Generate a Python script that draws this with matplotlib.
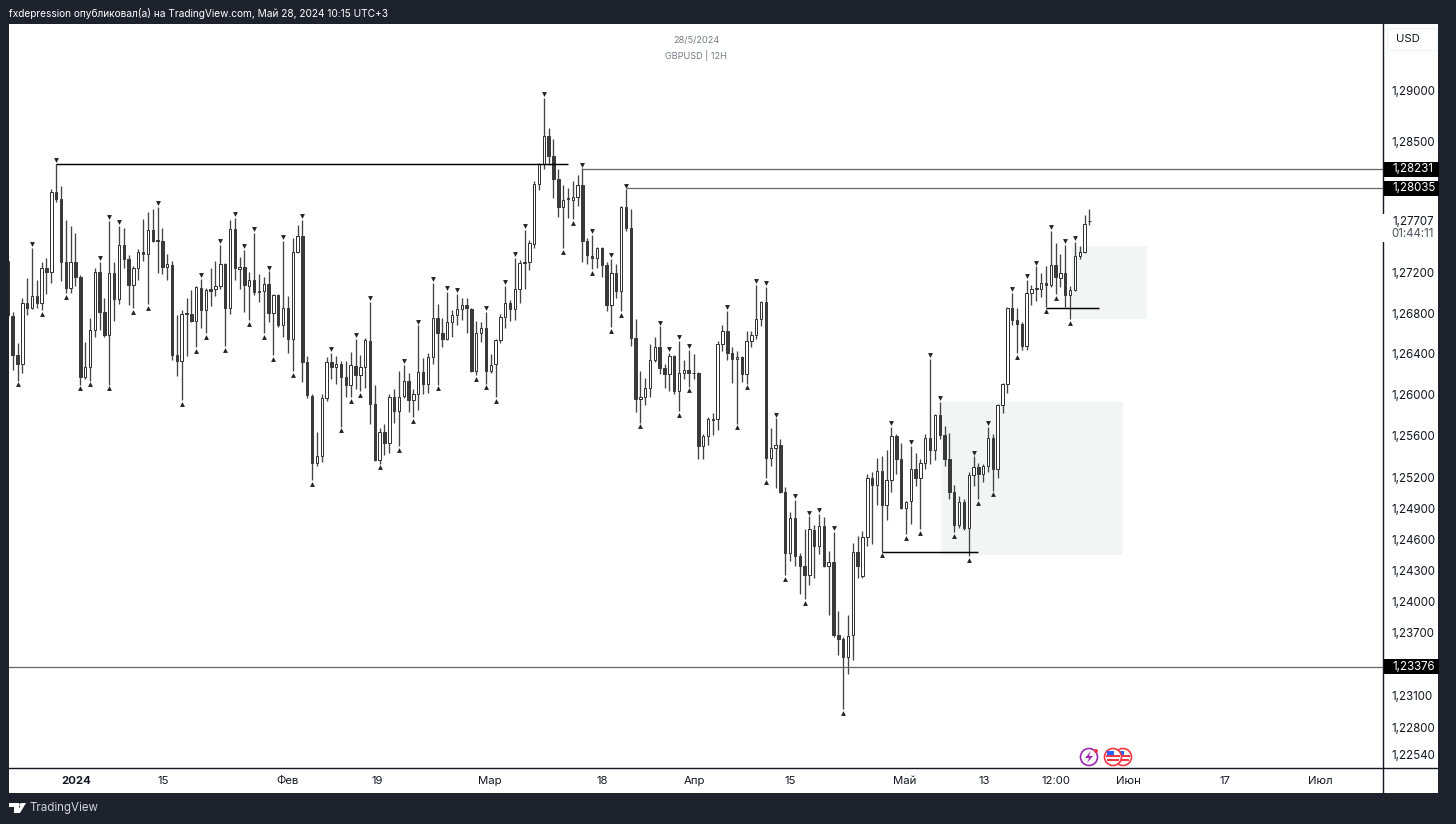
import numpy as np
import matplotlib
matplotlib.use("Agg")
import matplotlib.pyplot as plt
import matplotlib.transforms as mtransforms
from matplotlib.patches import Rectangle, Circle, Polygon

plt.rcParams["font.family"] = ["Inter", "DejaVu Sans"]

# candle values, in 1e-4 of a dollar
opens = [12731,
    12677, 12639, 12630, 12690, 12685, 12697, 12690, 12724, 12720, 12799,
    12793, 12730, 12705, 12730, 12716, 12617, 12627, 12663, 12720, 12681,
    12659, 12719, 12694, 12747, 12733, 12708, 12724, 12740, 12738, 12762,
    12752, 12751, 12725, 12727, 12639, 12633, 12679, 12679, 12672, 12705,
    12683, 12704, 12704, 12707, 12728, 12685, 12763, 12723, 12725, 12707,
    12713, 12701, 12702, 12709, 12680, 12698, 12668, 12685, 12655, 12740,
    12756, 12632, 12599, 12534, 12540, 12597, 12632, 12627, 12630, 12617,
    12610, 12628, 12619, 12627, 12653, 12591, 12537, 12564, 12553, 12598,
    12584, 12599, 12614, 12595, 12601, 12622, 12611, 12637, 12675, 12660,
    12655, 12671, 12678, 12684, 12688, 12684, 12623, 12660, 12665, 12623,
    12630, 12654, 12676, 12690, 12684, 12704, 12729, 12730, 12748, 12807,
    12827, 12855, 12835, 12812, 12785, 12793, 12792, 12795, 12806, 12751,
    12736, 12734, 12744, 12727, 12688, 12719, 12702, 12785, 12764, 12656,
    12596, 12598, 12607, 12634, 12647, 12626, 12620, 12638, 12604, 12621,
    12624, 12621, 12621, 12550, 12560, 12575, 12576, 12650, 12662, 12641,
    12635, 12637, 12620, 12653, 12659, 12674, 12691, 12539, 12548, 12551,
    12506, 12447, 12480, 12444, 12434, 12425, 12469, 12453, 12473, 12434,
    12438, 12368, 12364, 12347, 12368, 12448, 12424, 12462, 12519, 12512,
    12526, 12493, 12517, 12560, 12538, 12490, 12497, 12528, 12519, 12534,
    12558, 12546, 12580, 12561, 12538, 12506, 12474, 12496, 12471, 12522,
    12530, 12523, 12531, 12558, 12528, 12590, 12611, 12685, 12673, 12669,
    12648, 12700, 12704, 12704, 12710, 12708, 12727, 12715, 12719, 12698,
    12703, 12736, 12740, 12771]
highs = [12731,
    12681, 12651, 12695, 12715, 12744, 12713, 12730, 12734, 12802, 12827,
    12805, 12772, 12766, 12759, 12717, 12652, 12675, 12724, 12730, 12695,
    12771, 12730, 12766, 12764, 12737, 12726, 12743, 12773, 12780, 12783,
    12785, 12764, 12738, 12731, 12678, 12683, 12695, 12703, 12707, 12714,
    12705, 12724, 12731, 12747, 12729, 12772, 12774, 12735, 12742, 12720,
    12759, 12718, 12716, 12721, 12699, 12699, 12751, 12697, 12754, 12767,
    12772, 12638, 12601, 12564, 12601, 12637, 12641, 12638, 12633, 12633,
    12642, 12655, 12639, 12656, 12691, 12610, 12568, 12572, 12601, 12606,
    12623, 12629, 12621, 12606, 12668, 12636, 12641, 12710, 12689, 12675,
    12701, 12683, 12699, 12695, 12695, 12685, 12672, 12671, 12681, 12640,
    12655, 12679, 12707, 12693, 12734, 12732, 12762, 12752, 12810, 12828,
    12893, 12863, 12852, 12822, 12806, 12803, 12810, 12816, 12823, 12754,
    12757, 12745, 12745, 12730, 12733, 12728, 12786, 12802, 12783, 12674,
    12623, 12616, 12650, 12657, 12667, 12630, 12641, 12639, 12653, 12634,
    12644, 12640, 12622, 12562, 12578, 12582, 12653, 12668, 12682, 12647,
    12643, 12638, 12662, 12662, 12708, 12692, 12706, 12568, 12577, 12557,
    12510, 12486, 12498, 12447, 12470, 12482, 12474, 12484, 12481, 12449,
    12467, 12391, 12366, 12387, 12456, 12463, 12468, 12523, 12525, 12539,
    12540, 12546, 12569, 12562, 12553, 12497, 12550, 12543, 12538, 12562,
    12635, 12581, 12593, 12570, 12563, 12512, 12502, 12499, 12525, 12540,
    12534, 12533, 12569, 12562, 12591, 12612, 12686, 12700, 12685, 12671,
    12713, 12708, 12726, 12719, 12726, 12761, 12749, 12738, 12747, 12707,
    12750, 12746, 12777, 12783]
lows = [12675,
    12624, 12614, 12621, 12678, 12684, 12685, 12683, 12699, 12710, 12790,
    12712, 12700, 12700, 12707, 12610, 12615, 12614, 12657, 12663, 12657,
    12610, 12672, 12689, 12724, 12688, 12685, 12713, 12731, 12689, 12750,
    12719, 12718, 12713, 12634, 12618, 12595, 12638, 12671, 12647, 12665,
    12660, 12687, 12697, 12704, 12648, 12679, 12713, 12704, 12681, 12673,
    12698, 12691, 12660, 12671, 12639, 12666, 12657, 12641, 12623, 12739,
    12613, 12597, 12517, 12531, 12535, 12594, 12615, 12611, 12569, 12598,
    12598, 12606, 12604, 12607, 12572, 12536, 12533, 12541, 12543, 12573,
    12550, 12597, 12583, 12578, 12585, 12601, 12602, 12630, 12610, 12647,
    12654, 12657, 12668, 12673, 12660, 12622, 12619, 12652, 12611, 12621,
    12598, 12651, 12665, 12672, 12673, 12690, 12704, 12722, 12744, 12801,
    12822, 12826, 12794, 12775, 12744, 12774, 12773, 12786, 12730, 12728,
    12723, 12724, 12716, 12682, 12666, 12695, 12682, 12761, 12648, 12583,
    12573, 12590, 12598, 12632, 12620, 12607, 12604, 12601, 12584, 12615,
    12608, 12615, 12538, 12538, 12551, 12561, 12566, 12643, 12634, 12612,
    12572, 12613, 12611, 12647, 12655, 12667, 12519, 12531, 12509, 12505,
    12425, 12439, 12434, 12407, 12402, 12416, 12423, 12446, 12433, 12387,
    12366, 12349, 12297, 12331, 12344, 12423, 12423, 12453, 12455, 12493,
    12448, 12478, 12506, 12523, 12489, 12465, 12475, 12511, 12470, 12528,
    12533, 12537, 12557, 12531, 12499, 12467, 12471, 12469, 12444, 12511,
    12499, 12515, 12525, 12507, 12519, 12582, 12602, 12668, 12641, 12644,
    12644, 12688, 12692, 12696, 12686, 12706, 12699, 12706, 12686, 12674,
    12702, 12733, 12739, 12767]
closes = [12678,
    12639, 12630, 12690, 12685, 12697, 12690, 12724, 12720, 12799, 12793,
    12730, 12705, 12730, 12716, 12617, 12627, 12663, 12720, 12681, 12659,
    12719, 12694, 12747, 12733, 12708, 12724, 12740, 12738, 12762, 12751,
    12751, 12725, 12728, 12639, 12633, 12679, 12680, 12672, 12706, 12683,
    12703, 12702, 12707, 12728, 12685, 12763, 12724, 12725, 12708, 12713,
    12701, 12702, 12709, 12680, 12698, 12668, 12685, 12655, 12740, 12756,
    12632, 12600, 12534, 12540, 12597, 12632, 12627, 12630, 12617, 12610,
    12629, 12619, 12627, 12654, 12591, 12537, 12564, 12553, 12598, 12584,
    12598, 12614, 12595, 12601, 12622, 12611, 12637, 12675, 12660, 12655,
    12671, 12678, 12684, 12688, 12685, 12623, 12660, 12665, 12623, 12629,
    12654, 12676, 12690, 12684, 12704, 12729, 12730, 12749, 12807, 12827,
    12855, 12835, 12812, 12785, 12792, 12794, 12795, 12806, 12751, 12737,
    12734, 12744, 12727, 12688, 12719, 12702, 12785, 12764, 12656, 12596,
    12598, 12607, 12634, 12647, 12626, 12620, 12638, 12604, 12621, 12624,
    12621, 12621, 12550, 12560, 12576, 12576, 12650, 12662, 12641, 12635,
    12637, 12620, 12653, 12659, 12674, 12691, 12539, 12548, 12551, 12506,
    12447, 12480, 12444, 12434, 12425, 12470, 12453, 12473, 12434, 12438,
    12368, 12364, 12347, 12367, 12448, 12434, 12462, 12519, 12512, 12526,
    12493, 12517, 12560, 12538, 12490, 12496, 12528, 12519, 12534, 12558,
    12546, 12580, 12561, 12538, 12506, 12474, 12496, 12471, 12522, 12530,
    12523, 12531, 12558, 12528, 12590, 12611, 12685, 12673, 12669, 12648,
    12700, 12704, 12705, 12710, 12708, 12727, 12716, 12719, 12698, 12703,
    12736, 12740, 12768, 12771]

# candles carrying a fractal mark
swing_high_idx = [5, 10, 19, 21, 23, 31, 40, 44, 47, 49, 51, 54, 57, 61, 67, 72, 75, 82, 85,
                  88, 91, 93, 99, 103, 105, 107, 111, 119, 121, 125, 128, 135, 137, 139, 141,
                  149, 155, 157, 159, 163, 166, 168, 171, 183, 187, 191, 193, 200, 203, 208,
                  211, 213, 216, 219, 221]
swing_low_idx = [2, 7, 12, 15, 17, 21, 26, 29, 36, 39, 41, 45, 50, 53, 55, 59, 63, 69, 71, 73,
                 77, 81, 84, 89, 97, 99, 101, 115, 117, 121, 125, 127, 131, 139, 141, 151, 153,
                 157, 161, 165, 173, 181, 186, 189, 196, 199, 201, 204, 209, 215, 217, 220]

price_ticks = [1.29, 1.285, 1.272, 1.268, 1.264, 1.26, 1.256, 1.252, 1.249, 1.246, 1.243,
               1.24, 1.237, 1.231, 1.228, 1.2254]
time_tick_pos = [14.1, 32.1, 58, 76.4, 99.9, 123.1, 142.1, 162, 185.8, 202.2, 217.1, 232, 252.1, 271.8]
time_tick_labels = ["2024", "15", "Фев", "19", "Мар", "18", "Апр", "15", "Май", "13", "12:00",
                    "Июн", "17", "Июл"]

# drawn levels: price, first candle, last candle
level_old_high = (1.2827, 10, 116)
level_low_1 = (1.2448, 181, 201)
level_low_2 = (1.2685, 215, 226)
# lines that run into the price axis: where the line sits, first candle, its tag
level_right_1 = (1.2822, 119, "1,28231")
level_right_2 = (1.2803, 128, "1,28035")
level_bottom = (1.23376, 0, "1,23376")
last_price = "1,27707"
countdown = "01:44:11"
# zones: left, right, bottom price, top price
zones = [(193.2, 230.9, 1.2445, 1.2593), (220.3, 235.9, 1.2674, 1.2746)]

DARK = "#1e222d"
W, H = 1456, 824

o = np.array(opens) / 1e4
h = np.array(highs) / 1e4
l = np.array(lows) / 1e4
c = np.array(closes) / 1e4
x = np.arange(len(o))
down = c < o

fig = plt.figure(figsize=(W / 100, H / 100), dpi=100, facecolor=DARK)

bg = fig.add_axes([0, 0, 1, 1], zorder=0)
bg.set_xlim(0, W)
bg.set_ylim(H, 0)
bg.axis("off")
bg.add_patch(Rectangle((9, 24), 1429, 769, fc="white", ec="none"))

ax = fig.add_axes([9 / W, (H - 768) / H, 1374 / W, 744 / H], zorder=1)
ax.set_facecolor("none")
ax.set_yscale("log")
ax.set_xlim(0.234, 284.8)
ax.set_ylim(1.22411, 1.29671)

for left, right, p0, p1 in zones:
    ax.fill_between([left, right], p0, p1, color="#f3f5f4", lw=0, zorder=1)

ax.vlines(x, l, h, color="#444444", lw=0.95, zorder=2)
bottoms = np.minimum(o, c)
heights = np.abs(c - o)
ax.bar(x[~down], heights[~down], bottom=bottoms[~down], width=0.5, fc="white", ec="#333333", lw=0.72, zorder=3)
ax.bar(x[down], heights[down], bottom=bottoms[down], width=0.5, fc="#3a3a3a", ec="#3a3a3a", lw=0.72, zorder=3)

up_shift = mtransforms.offset_copy(ax.transData, fig=fig, y=3.8, units="dots")
dn_shift = mtransforms.offset_copy(ax.transData, fig=fig, y=-3.8, units="dots")
ax.plot(x[swing_high_idx], h[swing_high_idx], ls="", marker="v", ms=3.5, color="#222222", mew=0, transform=up_shift, zorder=4)
ax.plot(x[swing_low_idx], l[swing_low_idx], ls="", marker="^", ms=3.5, color="#222222", mew=0, transform=dn_shift, zorder=4)

for p, a, b in (level_old_high, level_low_1, level_low_2):
    ax.hlines(p, a, b, color="black", lw=1.05, zorder=5)
for p, a, _ in (level_right_1, level_right_2):
    ax.hlines(p, a, 290, color="#666666", lw=0.9, zorder=5)
ax.axhline(level_bottom[0], color="#666666", lw=0.9, zorder=5)

ax.set_yticks(price_ticks)
ax.set_yticklabels([f"{p:.5f}".replace(".", ",") for p in price_ticks])
ax.minorticks_off()
ax.yaxis.tick_right()
ax.tick_params(axis="y", length=0, pad=6.3, labelsize=8.3, colors="#131722")
ax.set_xticks(time_tick_pos)
ax.set_xticklabels(time_tick_labels)
ax.tick_params(axis="x", length=0, pad=6, labelsize=8.2, colors="#131722")
ax.get_xticklabels()[0].set_fontweight("bold")
for side in ("left", "top"):
    ax.spines[side].set_visible(False)
for side in ("right", "bottom"):
    ax.spines[side].set_color("#131722")
    ax.spines[side].set_linewidth(1.0)

ui = fig.add_axes([0, 0, 1, 1], zorder=2)
ui.set_xlim(0, W)
ui.set_ylim(H, 0)
ui.axis("off")
ui.patch.set_alpha(0)


def y_px(price):
    return H - ax.transData.transform((1, price))[1]


ui.plot([1383, 1438], [768, 768], color="#131722", lw=1.0, solid_capstyle="butt")
ui.plot([1383, 1383], [768, 793], color="#131722", lw=1.0, solid_capstyle="butt")

ui.text(9, 13, "fxdepression опубликовал(а) на TradingView.com, Май 28, 2024 10:15 UTC+3",
        color="white", fontsize=7.3, va="center", ha="left")
ui.text(696, 40, "28/5/2024", color="#787b86", fontsize=6.6, ha="center", va="center")
ui.text(696, 55, "GBPUSD | 12H", color="#787b86", fontsize=6.6, ha="center", va="center")

ui.add_patch(Rectangle((1387, 28), 50, 22, fc="white", ec="#f0f3fa", lw=0.8))
ui.text(1396, 39, "USD", color="#131722", fontsize=8.2, ha="left", va="center")

for p, _, tag in (level_right_1, level_right_2, level_bottom):
    yy = y_px(p)
    ui.add_patch(Rectangle((1384, yy - 7.5), 55, 15, fc="black", ec="none"))
    ui.text(1392, yy, tag, color="white", fontsize=8.3, ha="left", va="center")

# current price tag: the axis line breaks behind it
ui.add_patch(Rectangle((1382, 214), 56, 28, fc="white", ec="none"))
ui.text(1392, 222, last_price, color="#131722", fontsize=8.3, ha="left", va="center")
ui.text(1391, 234, countdown, color="#50535e", fontsize=8.3, ha="left", va="center")

# event icons near the time axis
ui.add_patch(Circle((1089, 757), 8.5, fc="white", ec="#9c27b0", lw=1.2))
ui.add_patch(Polygon([[1091, 751], [1085, 758], [1089, 758], [1087, 763], [1093, 756], [1089, 756]], fc="#9c27b0", ec="none"))
ui.add_patch(Circle((1096, 751), 2, fc="#f23645", ec="none"))
for cx in (1123, 1113):
    ui.add_patch(Circle((cx, 757), 8.5, fc="white", ec="#f23645", lw=1.2, zorder=3))
    ui.add_patch(Rectangle((cx - 7, 755), 14, 2.2, fc="#f23645", ec="none", zorder=3))
    ui.add_patch(Rectangle((cx - 6, 759), 12, 2.2, fc="#f23645", ec="none", zorder=3))
    ui.add_patch(Rectangle((cx - 6, 751), 6.5, 4, fc="#2962ff", ec="none", zorder=3))

# TradingView logo and name in the footer
ui.add_patch(Polygon([[9, 803], [19, 803], [19, 813], [14, 813], [14, 807], [9, 807]], fc="white", ec="none"))
ui.add_patch(Circle((21, 805), 1.8, fc="white", ec="none"))
ui.add_patch(Polygon([[26, 803], [20, 813], [16.5, 813], [22, 803]], fc="white", ec="none"))
ui.text(30, 808, "TradingView", color="#d1d4dc", fontsize=8.3, ha="left", va="center")

fig.savefig("out.png", dpi=100)
